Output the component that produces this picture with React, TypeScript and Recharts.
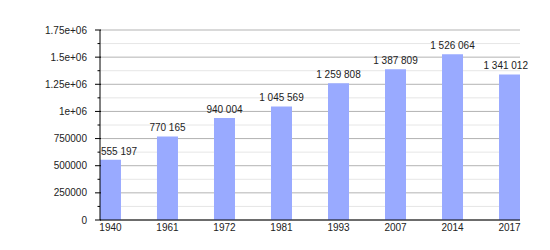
import { Bar, BarChart, CartesianGrid, LabelList, XAxis, YAxis } from 'recharts'

const years = ['1940', '1961', '1972', '1981', '1993', '2007', '2014', '2017']
const population = [555197, 770165, 940004, 1045569, 1259808, 1387809, 1526064, 1341012]
const majorTicks = [0, 250000, 500000, 750000, 1000000, 1250000, 1500000, 1750000]
const majorLabels = ['0', '250000', '500000', '750000', '1e+06', '1.25e+06', '1.5e+06', '1.75e+06']
const minorTicks = [125000, 375000, 625000, 875000, 1125000, 1375000, 1625000]
const yearIndexes = [0, 1, 2, 3, 4, 5, 6, 7]

const data = years.map((year, i) => ({ idx: yearIndexes[i], year, value: population[i] }))
const allTicks = [...majorTicks, ...minorTicks].sort((a, b) => a - b)

const font = '"Liberation Sans", Arial, sans-serif'

const fmt = (v: number) => String(v).replace(/\B(?=(\d{3})+(?!\d))/g, ' ')
const textWidth = (s: string) => s.split('').reduce((w, c) => w + (c === ' ' ? 2.78 : 5.56), 0)

const YTick = (props: any) => {
    const { x, y, payload } = props
    const i = majorTicks.indexOf(payload.value)
    if (i < 0) return <line x1={x - 2.5} x2={x} y1={y} y2={y} stroke="#000" />
    return (
        <g>
            <line x1={x - 5} x2={x + 1} y1={y} y2={y} stroke="#000" />
            <text x={x - 13} y={y} dy="0.35em" textAnchor="end" fontSize={10} fontFamily={font} fill="#222">
                {majorLabels[i]}
            </text>
        </g>
    )
}

const BarLabel = (props: any) => {
    const { x, y, width, value } = props
    const text = fmt(value)
    const w = textWidth(text)
    let cx = Number(x) + Number(width) / 2
    cx = Math.max(cx, 101 + w / 2)
    cx = Math.min(cx, 528 - w / 2)
    return (
        <text x={cx} y={Number(y) - 5} textAnchor="middle" fontSize={10} fontFamily={font} fill="#222">
            {text}
        </text>
    )
}

const App = () => {
    return (
        <div style={{ position: 'absolute', left: 0, top: 0, width: 550, height: 250 }}>
            <BarChart width={550} height={250} data={data} margin={{ top: 30, right: 30, bottom: 0, left: 0 }}>
                <CartesianGrid vertical={false} horizontalValues={minorTicks} stroke="#e6e6e6" />
                <CartesianGrid vertical={false} horizontalValues={majorTicks} stroke="#b3b3b3" />
                <XAxis
                    type="number"
                    dataKey="idx"
                    domain={[-0.18375, 7.18375]}
                    ticks={yearIndexes}
                    interval={0}
                    allowDataOverflow
                    tickFormatter={(i: number) => years[i]}
                    tickLine={false}
                    tickSize={0}
                    tickMargin={4}
                    height={30}
                    stroke="#000"
                    tick={{ fill: '#222', fontSize: 10, fontFamily: font }}
                />
                <YAxis
                    domain={[0, 1750000]}
                    ticks={allTicks}
                    interval={0}
                    width={100}
                    tickLine={false}
                    tickSize={0}
                    tickMargin={0}
                    stroke="#000"
                    tick={<YTick />}
                />
                <Bar dataKey="value" fill="#99aaff" barSize={21} isAnimationActive={false}>
                    <LabelList dataKey="value" content={<BarLabel />} />
                </Bar>
            </BarChart>
        </div>
    )
}

export default App
